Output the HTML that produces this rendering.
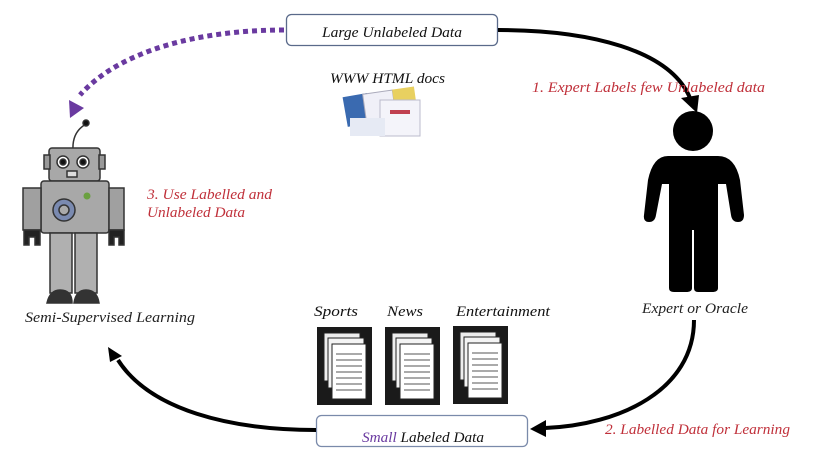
<!DOCTYPE html>
<html><head><meta charset="utf-8"><style>
html,body{margin:0;padding:0;background:#fff;}
svg{display:block;}
text{font-family:"Liberation Serif",serif;font-style:italic;}
</style></head><body>
<svg width="830" height="457" viewBox="0 0 830 457" xmlns="http://www.w3.org/2000/svg">
<!-- top box -->
<rect x="286.5" y="14.5" width="211" height="31" rx="5" fill="#fff" stroke="#5a6a8a" stroke-width="1.3"/>
<text x="322" y="37" font-size="15" textLength="140" lengthAdjust="spacingAndGlyphs" fill="#111">Large Unlabeled Data</text>
<!-- bottom box -->
<rect x="316.5" y="415.5" width="211" height="31" rx="5" fill="#fff" stroke="#7a8aaa" stroke-width="1.3"/>
<text x="362" y="442" font-size="15" textLength="122" lengthAdjust="spacingAndGlyphs" fill="#111"><tspan fill="#6a3aa0">Small</tspan> Labeled Data</text>
<!-- dotted purple arc -->
<path d="M284,30 C200,30 120,50 80,95" fill="none" stroke="#6a3aa0" stroke-width="5" stroke-dasharray="5,4"/>
<path d="M70,118 L69,100 L84,108 z" fill="#6a3aa0"/>
<!-- top right arc -->
<path d="M498,30 C590,30 670,50 690,98" fill="none" stroke="#000" stroke-width="4"/>
<path d="M697,113 L681,98 L699,95 z" fill="#000"/>
<!-- bottom right arc -->
<path d="M694,320 C694,390 620,425 545,428" fill="none" stroke="#000" stroke-width="4"/>
<path d="M530,429 L546,420 L546,437 z" fill="#000"/>
<!-- bottom left arc -->
<path d="M316,430 C230,430 150,410 118,360" fill="none" stroke="#000" stroke-width="4"/>
<path d="M108,347 L122,356 L110,362 z" fill="#000"/>
<!-- labels -->
<text x="532" y="92" font-size="15" textLength="233" lengthAdjust="spacingAndGlyphs" fill="#c0303a">1. Expert Labels few  Unlabeled data</text>
<text x="605" y="434" font-size="15" textLength="185" lengthAdjust="spacingAndGlyphs" fill="#c0303a">2. Labelled Data for Learning</text>
<text x="147" y="199" font-size="15" textLength="125" lengthAdjust="spacingAndGlyphs" fill="#c0303a">3. Use  Labelled and</text>
<text x="147" y="217" font-size="15" textLength="98" lengthAdjust="spacingAndGlyphs" fill="#c0303a">Unlabeled Data</text>
<text x="330" y="83" font-size="15" textLength="115" lengthAdjust="spacingAndGlyphs" fill="#111">WWW HTML docs</text>
<text x="642" y="313" font-size="15" textLength="106" lengthAdjust="spacingAndGlyphs" fill="#222">Expert or Oracle</text>
<text x="25" y="322" font-size="15" textLength="170" lengthAdjust="spacingAndGlyphs" fill="#222">Semi-Supervised Learning</text>
<text x="314" y="316" font-size="15" textLength="44" lengthAdjust="spacingAndGlyphs" fill="#111">Sports</text>
<text x="387" y="316" font-size="15" textLength="36" lengthAdjust="spacingAndGlyphs" fill="#111">News</text>
<text x="456" y="316" font-size="15" textLength="94" lengthAdjust="spacingAndGlyphs" fill="#111">Entertainment</text>
<!-- www docs picture -->
<g>
<rect x="345" y="95" width="25" height="30" fill="#3a6ab0" transform="rotate(-10 357 110)"/>
<rect x="365" y="92" width="30" height="35" fill="#f0f0f8" stroke="#aab" transform="rotate(-8 380 110)"/>
<rect x="393" y="88" width="22" height="14" fill="#e8d060" transform="rotate(-8 404 95)"/>
<rect x="380" y="100" width="40" height="36" fill="#f4f4fa" stroke="#bbc"/>
<rect x="350" y="118" width="35" height="18" fill="#e6eaf4"/>
<rect x="390" y="110" width="20" height="4" fill="#c04050"/>
</g>
<!-- documents -->
<g id="d">
<rect x="317" y="327" width="55" height="78" fill="#1a1a1a"/>
<rect x="324" y="333" width="36" height="48" fill="#eee" stroke="#222"/>
<rect x="328" y="338" width="36" height="50" fill="#f4f4f4" stroke="#222"/>
<rect x="332" y="344" width="34" height="55" fill="#fff" stroke="#222"/>
<g stroke="#555" stroke-width="1"><line x1="336" y1="354" x2="362" y2="354"/><line x1="336" y1="360" x2="362" y2="360"/><line x1="336" y1="366" x2="362" y2="366"/><line x1="336" y1="372" x2="362" y2="372"/><line x1="336" y1="378" x2="362" y2="378"/><line x1="336" y1="384" x2="362" y2="384"/><line x1="336" y1="390" x2="362" y2="390"/></g>
</g>
<use href="#d" x="68"/>
<use href="#d" x="136" y="-1"/>
<!-- person -->
<g fill="#000">
<circle cx="693" cy="131" r="20"/>
<path d="M668,156 L718,156 Q735,156 740,180 L744,215 Q744,222 738,222 Q732,222 731,215 L726,184 L718,184 L718,288 Q718,292 712,292 L698,292 Q694,292 694,288 L694,230 L692,230 L692,288 Q692,292 686,292 L674,292 Q669,292 669,288 L669,184 L662,184 L656,215 Q655,222 649,222 Q643,222 644,215 L648,180 Q653,156 668,156 z"/>
</g>
<!-- robot -->
<g stroke="#333" stroke-width="1.5">
<path d="M73,150 Q72,132 86,124" fill="none"/>
<circle cx="86" cy="123" r="3" fill="#111"/>
<rect x="49" y="148" width="51" height="33" rx="3" fill="#a8a8a8"/>
<rect x="44" y="155" width="6" height="14" fill="#999"/>
<rect x="99" y="155" width="6" height="14" fill="#999"/>
<circle cx="63" cy="162" r="6" fill="#fff"/><circle cx="63" cy="162" r="3" fill="#111"/>
<circle cx="83" cy="162" r="6" fill="#fff"/><circle cx="83" cy="162" r="3" fill="#111"/>
<rect x="67" y="171" width="10" height="6" fill="#ddd"/>
<rect x="41" y="181" width="68" height="52" rx="3" fill="#a8a8a8"/>
<rect x="23" y="188" width="18" height="42" fill="#a0a0a0"/>
<rect x="109" y="188" width="15" height="42" fill="#a0a0a0"/>
<path d="M24,230 v15 h5 v-8 h6 v8 h5 v-15 z" fill="#222"/>
<path d="M109,230 v15 h5 v-8 h5 v8 h5 v-15 z" fill="#222"/>
<circle cx="64" cy="210" r="11" fill="#7a8ab0"/>
<circle cx="64" cy="210" r="5" fill="#aaa"/>
<circle cx="87" cy="196" r="3.5" fill="#6aa040" stroke="none"/>
<rect x="50" y="233" width="22" height="60" fill="#b0b0b0"/>
<rect x="75" y="233" width="22" height="60" fill="#b0b0b0"/>
<path d="M47,303 Q50,290 60,290 Q72,290 72,303 z" fill="#333"/>
<path d="M74,303 Q76,290 86,290 Q97,290 99,303 z" fill="#333"/>
</g>
</svg>
</body></html>
